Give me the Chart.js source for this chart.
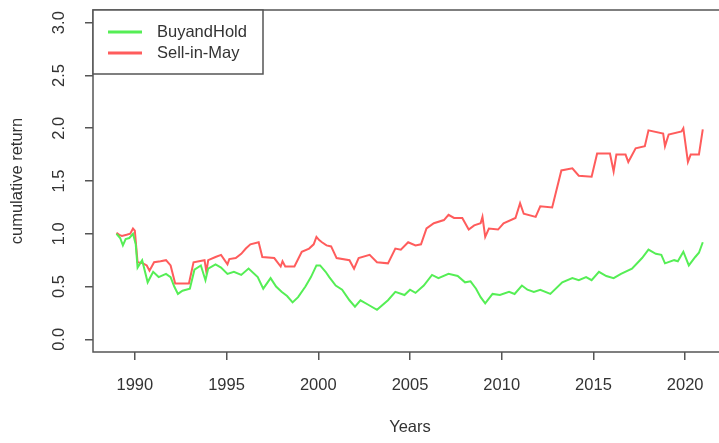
<!DOCTYPE html>
<html>
<head>
<meta charset="utf-8">
<script src="https://cdn.jsdelivr.net/npm/chart.js@4"></script>
<style>
html,body{margin:0;padding:0;background:#fff;overflow:hidden;}
#wrap{width:800px;height:443px;}
</style>
</head>
<body>
<div id="wrap"><canvas id="cumchart" width="800" height="443"></canvas></div>
<script>
// series (decimal years, cumulative return)
var bhYears = [1989.00,1989.20,1989.35,1989.50,1989.70,1989.90,1990.05,1990.15,1990.40,1990.70,1991.00,1991.30,1991.70,1991.95,1992.15,1992.35,1992.60,1993.00,1993.25,1993.60,1993.85,1994.00,1994.40,1994.70,1995.05,1995.40,1995.80,1996.20,1996.70,1997.00,1997.40,1997.70,1998.00,1998.30,1998.60,1998.90,1999.30,1999.60,1999.90,2000.10,2000.40,2000.60,2000.95,2001.30,2001.70,2002.00,2002.30,2002.70,2003.20,2003.80,2004.20,2004.70,2005.00,2005.30,2005.75,2006.20,2006.55,2007.10,2007.60,2008.00,2008.30,2008.60,2008.85,2009.10,2009.50,2009.90,2010.40,2010.70,2011.10,2011.40,2011.75,2012.10,2012.65,2013.30,2013.85,2014.20,2014.60,2014.90,2015.30,2015.70,2016.10,2016.50,2017.10,2017.65,2018.00,2018.40,2018.70,2018.90,2019.40,2019.60,2019.90,2020.20,2020.55,2020.75,2020.96];
var bhValues = [1.00,0.96,0.89,0.95,0.96,1.00,0.90,0.68,0.75,0.54,0.64,0.59,0.62,0.59,0.50,0.43,0.46,0.48,0.66,0.70,0.56,0.67,0.71,0.68,0.62,0.64,0.61,0.67,0.59,0.48,0.58,0.50,0.45,0.41,0.35,0.40,0.50,0.59,0.70,0.70,0.64,0.59,0.51,0.47,0.37,0.31,0.37,0.33,0.28,0.37,0.45,0.42,0.47,0.44,0.51,0.61,0.58,0.62,0.60,0.54,0.55,0.48,0.40,0.34,0.43,0.42,0.45,0.43,0.51,0.47,0.45,0.47,0.43,0.54,0.58,0.56,0.59,0.56,0.64,0.60,0.58,0.62,0.67,0.77,0.85,0.81,0.80,0.72,0.75,0.74,0.83,0.70,0.78,0.82,0.92];

var simYears = [1989.00,1989.15,1989.30,1989.55,1989.75,1989.90,1990.00,1990.15,1990.45,1990.65,1990.80,1991.05,1991.40,1991.70,1991.95,1992.20,1992.95,1993.20,1993.50,1993.80,1993.90,1994.00,1994.40,1994.70,1995.05,1995.15,1995.50,1995.80,1996.05,1996.30,1996.75,1996.95,1997.60,1997.95,1998.05,1998.20,1998.70,1999.10,1999.50,1999.75,1999.90,2000.05,2000.20,2000.45,2000.70,2001.00,2001.70,2001.95,2002.20,2002.80,2003.20,2003.80,2004.20,2004.50,2004.90,2005.30,2005.60,2005.90,2006.30,2006.85,2007.10,2007.40,2007.85,2008.20,2008.50,2008.85,2008.95,2009.10,2009.30,2009.80,2010.10,2010.75,2011.00,2011.20,2011.85,2012.10,2012.75,2013.25,2013.85,2014.20,2014.90,2015.20,2015.90,2016.10,2016.25,2016.75,2016.90,2017.30,2017.80,2018.00,2018.80,2018.90,2019.10,2019.80,2019.90,2020.15,2020.30,2020.75,2020.96];
var simValues = [1.01,0.99,0.98,0.99,1.00,1.05,1.03,0.73,0.72,0.70,0.65,0.73,0.74,0.75,0.70,0.53,0.53,0.73,0.74,0.75,0.64,0.75,0.78,0.80,0.71,0.76,0.77,0.81,0.86,0.90,0.92,0.78,0.77,0.69,0.74,0.69,0.69,0.83,0.86,0.90,0.97,0.94,0.92,0.89,0.88,0.77,0.75,0.67,0.77,0.80,0.73,0.72,0.86,0.85,0.92,0.89,0.90,1.05,1.10,1.13,1.18,1.15,1.15,1.04,1.08,1.10,1.16,0.97,1.05,1.04,1.10,1.15,1.29,1.19,1.16,1.26,1.25,1.60,1.62,1.55,1.54,1.76,1.76,1.59,1.75,1.75,1.68,1.81,1.83,1.98,1.95,1.83,1.94,1.97,2.00,1.68,1.75,1.75,1.99];

var seriesNames = ["BuyandHold", "Sell-in-May"];
var seriesColors = ["#55ee55", "#ff5c5c"];

function toPoints(xs, ys){
  return xs.map(function(x, i){ return {x: x, y: ys[i]}; });
}

var fnt = {family: '"Liberation Sans", Arial, sans-serif', size: 16.5};
var txtCol = "#333";

// R style box round the plot area (its right side falls outside the picture)
var frame = {
  id: "frame",
  afterDatasetsDraw: function(chart){
    var a = chart.chartArea, ctx = chart.ctx;
    ctx.save();
    ctx.strokeStyle = "#555";
    ctx.lineWidth = 1.5;
    ctx.beginPath();
    ctx.moveTo(a.right, a.bottom);
    ctx.lineTo(a.left, a.bottom);
    ctx.lineTo(a.left, a.top);
    ctx.lineTo(a.right, a.top);
    ctx.stroke();
    ctx.restore();
  }
};

// legend box in the top left corner
var legendBox = {
  id: "legendBox",
  afterDraw: function(chart){
    var a = chart.chartArea, ctx = chart.ctx;
    var x0 = a.left, y0 = a.top;
    ctx.save();
    ctx.fillStyle = "#fff";
    ctx.fillRect(x0, y0, 170, 64);
    ctx.strokeStyle = "#555";
    ctx.lineWidth = 1.5;
    ctx.strokeRect(x0, y0, 170, 64);
    ctx.font = "16.5px " + fnt.family;
    ctx.textBaseline = "middle";
    chart.data.datasets.forEach(function(ds, i){
      var y = y0 + 22 + i * 21;
      ctx.strokeStyle = ds.borderColor;
      ctx.lineWidth = 3;
      ctx.beginPath();
      ctx.moveTo(x0 + 15, y);
      ctx.lineTo(x0 + 49, y);
      ctx.stroke();
      ctx.fillStyle = txtCol;
      ctx.fillText(ds.label, x0 + 64, y);
    });
    ctx.restore();
  }
};

var ctx = document.getElementById("cumchart");
var cumChart = new Chart(ctx, {
  type: "line",
  data: {
    datasets: [{
      label: seriesNames[0],
      data: toPoints(bhYears, bhValues),
      borderColor: seriesColors[0],
      borderWidth: 2,
      pointRadius: 0,
      tension: 0,
      fill: false
    }, {
      label: seriesNames[1],
      data: toPoints(simYears, simValues),
      borderColor: seriesColors[1],
      borderWidth: 2,
      pointRadius: 0,
      tension: 0,
      fill: false
    }]
  },
  options: {
    responsive: false,
    animation: false,
    devicePixelRatio: 1,
    layout: {padding: {top: 10, right: 73, left: 0, bottom: 0}},
    plugins: {
      legend: {display: false},
      tooltip: {enabled: false}
    },
    scales: {
      x: {
        type: "linear",
        min: 1987.72,
        max: 2022.28,
        afterFit: function(s){ s.height = 91; s.paddingLeft = 0; s.paddingRight = 0; },
        border: {display: false},
        grid: {drawOnChartArea: false, drawTicks: true, tickLength: 8, color: "#555", lineWidth: 1.5},
        ticks: {
          stepSize: 5,
          includeBounds: false,
          autoSkip: false,
          maxRotation: 0,
          padding: 16,
          color: txtCol,
          font: fnt,
          callback: function(v){ return String(v); }
        },
        title: {display: true, text: "Years", color: txtCol, font: fnt, padding: {top: 0, bottom: 6}}
      },
      y: {
        min: -0.12,
        max: 3.12,
        afterFit: function(s){ s.width = 93; s.paddingTop = 0; s.paddingBottom = 0; },
        border: {display: false},
        grid: {drawOnChartArea: false, drawTicks: true, tickLength: 8, color: "#555", lineWidth: 1.5},
        ticks: {
          stepSize: 0.5,
          includeBounds: false,
          minRotation: 90,
          maxRotation: 90,
          crossAlign: "center",
          padding: 14,
          color: txtCol,
          font: fnt,
          callback: function(v){ return v.toFixed(1); }
        },
        title: {display: true, text: "cumulative return", color: txtCol, font: fnt, padding: {top: 8, bottom: 0}}
      }
    }
  },
  plugins: [frame, legendBox]
});
</script>
</body>
</html>
